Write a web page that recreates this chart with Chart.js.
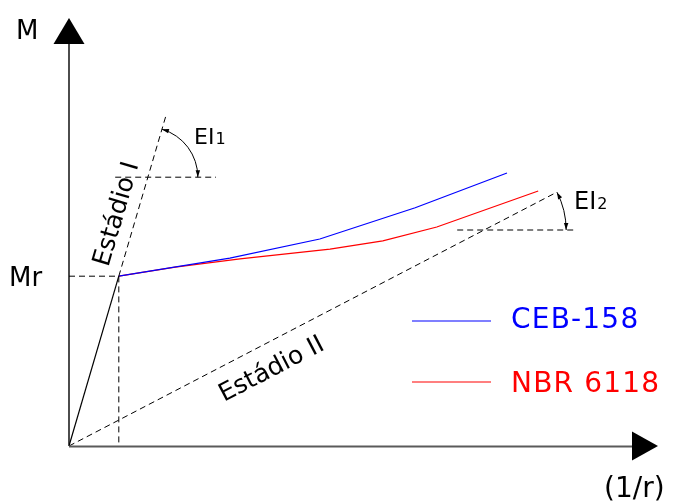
<!DOCTYPE html>
<html>
<head>
<meta charset="utf-8">
<script src="https://cdn.jsdelivr.net/npm/chart.js@4/dist/chart.umd.min.js"></script>
<style>
  html, body { margin: 0; padding: 0; background: #fff; }
  canvas { display: block; }
</style>
</head>
<body>
<canvas id="chart" width="675" height="504"></canvas>
<script>
// ---- data (curvature 1/r on x, moment M on y, arbitrary units) ----
const seriesLabels = ['CEB-158', 'NBR 6118'];
const seriesColors = ['#0000ff', '#ff0000'];

const cebCurv   = [0.83, 2.68, 4.18, 5.77, 7.30];
const cebMoment = [2.83, 3.13, 3.45, 3.97, 4.55];

const nbrCurv   = [0.83, 1.77, 2.85, 4.35, 5.23, 6.13, 7.82];
const nbrMoment = [2.83, 2.98, 3.12, 3.28, 3.42, 3.65, 4.25];

// cracking point (Mr)
const crackCurv = 0.83;
const crackMoment = 2.83;

// secant lines of stage I and stage II (end points)
const stageIEnd  = [1.62, 5.52];
const stageIIEnd = [8.13, 4.23];

// horizontal reference lines used to show the EI angles
const ei1RefX = [0.77, 2.45];
const ei1RefY = 4.48;
const ei2RefX = [6.47, 8.42];
const ei2RefY = 3.60;

const xMax = 10;
const yMax = 7;

// ---- helpers ----
const pts = (xs, ys) => xs.map((v, i) => ({ x: v, y: ys[i] }));
const FONT = '"DejaVu Sans", Verdana, sans-serif';

const dashed = (data) => ({
  data, borderColor: '#000', borderWidth: 1, borderDash: [6, 4],
  pointRadius: 0, showLine: true, fill: false
});

const datasets = [
  dashed([{ x: 0, y: crackMoment }, { x: crackCurv, y: crackMoment }, { x: crackCurv, y: 0 }]),
  dashed([{ x: crackCurv, y: crackMoment }, { x: stageIEnd[0], y: stageIEnd[1] }]),
  dashed([{ x: ei1RefX[0], y: ei1RefY }, { x: ei1RefX[1], y: ei1RefY }]),
  dashed([{ x: 0, y: 0 }, { x: stageIIEnd[0], y: stageIIEnd[1] }]),
  dashed([{ x: ei2RefX[0], y: ei2RefY }, { x: ei2RefX[1], y: ei2RefY }]),
  {
    data: [{ x: 0, y: 0 }, { x: crackCurv, y: crackMoment }],
    borderColor: '#000', borderWidth: 1.2, pointRadius: 0, showLine: true
  },
  {
    label: seriesLabels[0], data: pts(cebCurv, cebMoment),
    borderColor: seriesColors[0], borderWidth: 1.2, pointRadius: 0, showLine: true
  },
  {
    label: seriesLabels[1], data: pts(nbrCurv, nbrMoment),
    borderColor: seriesColors[1], borderWidth: 1.2, pointRadius: 0, showLine: true
  }
];

function arrowHead(ctx, x, y, dx, dy, len, half) {
  const n = Math.hypot(dx, dy); dx /= n; dy /= n;
  ctx.beginPath();
  ctx.moveTo(x, y);
  ctx.lineTo(x - dx * len - dy * half, y - dy * len + dx * half);
  ctx.lineTo(x - dx * len + dy * half, y - dy * len - dx * half);
  ctx.closePath();
  ctx.fill();
}

// arc between a secant line and its horizontal reference, arrows on both ends
function angleArc(ctx, cx, cy, r, a0, a1) {
  ctx.beginPath();
  ctx.arc(cx, cy, r, a0, a1, false);
  ctx.stroke();
  arrowHead(ctx, cx + r * Math.cos(a0), cy + r * Math.sin(a0), Math.sin(a0), -Math.cos(a0), 7, 2.2);
  arrowHead(ctx, cx + r * Math.cos(a1), cy + r * Math.sin(a1), -Math.sin(a1), Math.cos(a1), 7, 2.2);
}

function subLabel(ctx, main, sub, x, y, size, subSize) {
  ctx.font = size + 'px ' + FONT;
  ctx.fillText(main, x, y);
  const w = ctx.measureText(main).width;
  ctx.font = subSize + 'px ' + FONT;
  ctx.fillText(sub, x + w + 1, y);
}

function lineLabel(ctx, text, px, py, angle, offset, size) {
  ctx.save();
  ctx.translate(px, py);
  ctx.rotate(angle);
  ctx.font = size + 'px ' + FONT;
  ctx.textAlign = 'center';
  ctx.textBaseline = 'middle';
  ctx.fillText(text, 0, offset);
  ctx.restore();
}

const schematic = {
  id: 'schematic',
  afterDatasetsDraw(chart) {
    const { ctx, scales: { x, y } } = chart;
    const X = v => x.getPixelForValue(v);
    const Y = v => y.getPixelForValue(v);
    const ox = X(0), oy = Y(0);
    ctx.save();

    // axes with arrow heads
    ctx.fillStyle = '#000';
    ctx.strokeStyle = '#000';
    ctx.lineWidth = 1.4;
    ctx.beginPath(); ctx.moveTo(ox, oy); ctx.lineTo(ox, 44); ctx.stroke();
    ctx.beginPath(); ctx.moveTo(ox, 18); ctx.lineTo(ox - 15.5, 44); ctx.lineTo(ox + 15.5, 44); ctx.closePath(); ctx.fill();
    ctx.strokeStyle = '#5a5a5a';
    ctx.lineWidth = 2;
    ctx.beginPath(); ctx.moveTo(ox, oy + 0.5); ctx.lineTo(633, oy + 0.5); ctx.stroke();
    ctx.beginPath(); ctx.moveTo(658, oy); ctx.lineTo(632, oy - 14.5); ctx.lineTo(632, oy + 14.5); ctx.closePath(); ctx.fill();

    // EI angle arcs
    ctx.strokeStyle = '#000';
    ctx.lineWidth = 1;
    const c1x = X(ei1RefY * crackCurv / crackMoment), c1y = Y(ei1RefY);
    const a1 = Math.atan2(Y(stageIEnd[1]) - c1y, X(stageIEnd[0]) - c1x);
    angleArc(ctx, c1x, c1y, 50, a1, 0);
    const c2x = X(ei2RefY * stageIIEnd[0] / stageIIEnd[1]), c2y = Y(ei2RefY);
    const a2 = Math.atan2(Y(stageIIEnd[1]) - c2y, X(stageIIEnd[0]) - c2x);
    angleArc(ctx, c2x, c2y, 82, a2, 0);

    // texts
    ctx.fillStyle = '#000';
    ctx.textAlign = 'left';
    ctx.textBaseline = 'alphabetic';
    ctx.font = '26px ' + FONT;
    ctx.fillText('M', 16, 39);
    ctx.fillText('Mr', 9, 286);
    ctx.font = '28px ' + FONT;
    ctx.fillText('(1/r)', 604, 497);
    subLabel(ctx, 'EI', '1', 194, 144, 22, 16);
    subLabel(ctx, 'EI', '2', 574, 209, 24, 16);

    const angI = Math.atan2(Y(crackMoment) - oy, X(crackCurv) - ox);
    lineLabel(ctx, 'Estádio I', X(1.107), Y(1.107 * crackMoment / crackCurv), angI, -19, 25);
    const angII = Math.atan2(Y(stageIIEnd[1]) - oy, X(stageIIEnd[0]) - ox);
    lineLabel(ctx, 'Estádio II', X(3.18), Y(3.18 * stageIIEnd[1] / stageIIEnd[0]), angII, 26, 25);

    // legend
    const legendY = [321, 382];
    const textY = [328, 392];
    seriesLabels.forEach((lab, i) => {
      ctx.strokeStyle = seriesColors[i];
      ctx.lineWidth = 1.2;
      ctx.beginPath(); ctx.moveTo(412, legendY[i]); ctx.lineTo(491, legendY[i]); ctx.stroke();
      ctx.fillStyle = seriesColors[i];
      ctx.font = '28px ' + FONT;
      ctx.letterSpacing = '1.2px';
      ctx.fillText(lab, 511, textY[i]);
      ctx.letterSpacing = '0px';
    });
    ctx.restore();
  }
};

new Chart(document.getElementById('chart'), {
  type: 'scatter',
  data: { datasets },
  options: {
    responsive: false,
    animation: false,
    events: [],
    layout: { padding: { left: 69, right: 6, top: 26, bottom: 58 } },
    plugins: { legend: { display: false }, tooltip: { enabled: false } },
    scales: {
      x: { type: 'linear', min: 0, max: xMax, display: false },
      y: { type: 'linear', min: 0, max: yMax, display: false }
    }
  },
  plugins: [schematic]
});
</script>
</body>
</html>
